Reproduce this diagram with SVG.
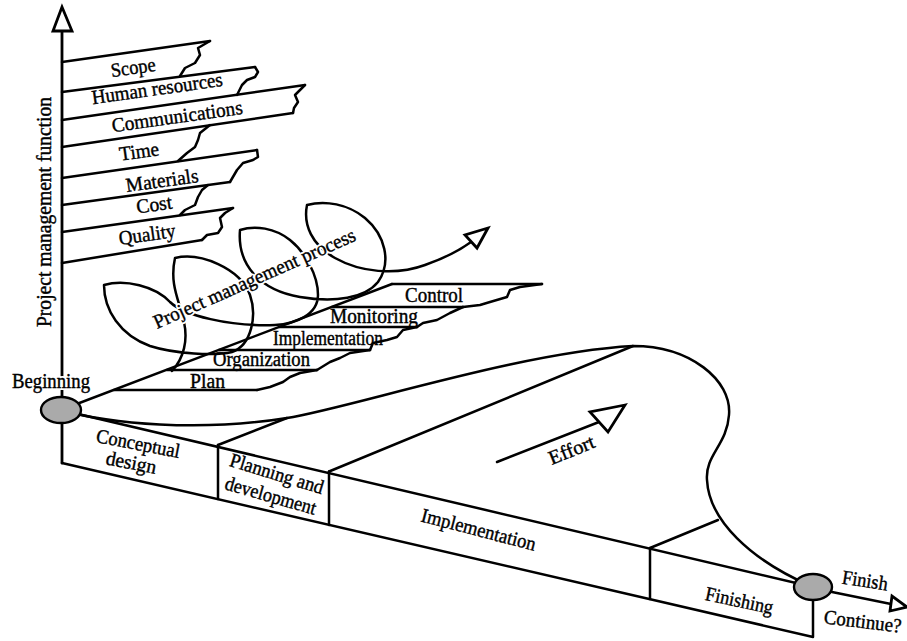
<svg xmlns="http://www.w3.org/2000/svg" width="907" height="641" viewBox="0 0 907 641">
<style>
.ln{fill:none;stroke:#000;stroke-width:2.5;stroke-linejoin:round;stroke-linecap:round}
.t{font-family:"Liberation Serif","Times New Roman",serif;font-size:20px;fill:#000;stroke:#000;stroke-width:0.4}
.halo{fill:#fff;stroke:#fff;stroke-width:4;stroke-linejoin:round}
.node{fill:#aaaaaa;stroke:#000;stroke-width:2.4}
.head{fill:#fff;stroke:#000;stroke-width:2.8;stroke-linejoin:miter}
</style>
<rect width="907" height="641" fill="#fff"/>

<g id="axis">
<path class="ln" d="M62,30 L62,463" style="stroke-width:2.8"/>
<text class="t" transform="translate(51,212) rotate(-90)" text-anchor="middle" textLength="230" lengthAdjust="spacingAndGlyphs">Project management function</text>
</g>

<g id="fn-scope">
<path class="ln" d="M62,62 L210,41"/>
<path class="ln" d="M210,41 L198,48 L200,55 L195,63 L185,68 L180,76"/>
<text class="t" x="134" y="74" text-anchor="middle" transform="rotate(-8 134 74)" textLength="45" lengthAdjust="spacingAndGlyphs">Scope</text>
</g>
<g id="fn-human">
<path class="ln" d="M62,92 L255,67"/>
<path class="ln" d="M255,67 L258,72 L255,77 L247,80 L242,85 L237,95"/>
<text class="t" x="158" y="95" text-anchor="middle" transform="rotate(-8 158 95)" textLength="132" lengthAdjust="spacingAndGlyphs">Human resources</text>
</g>
<g id="fn-comm">
<path class="ln" d="M62,120 L305,85"/>
<path class="ln" d="M305,85 L300,90 L295,95 L298,102 L294,108 L293,113"/>
<text class="t" x="178" y="123" text-anchor="middle" transform="rotate(-8 178 123)" textLength="132" lengthAdjust="spacingAndGlyphs">Communications</text>
</g>
<g id="fn-time">
<path class="ln" d="M62,147 L293,113"/>
<path class="ln" d="M210,125 L200,133 L198,140 L195,147 L187,153 L178,161"/>
<text class="t" x="140" y="158" text-anchor="middle" transform="rotate(-8 140 158)" textLength="40" lengthAdjust="spacingAndGlyphs">Time</text>
</g>
<g id="fn-materials">
<path class="ln" d="M62,178 L257,150"/>
<path class="ln" d="M257,150 L258,157 L253,160 L243,163 L237,170 L230,182"/>
<text class="t" x="163" y="187" text-anchor="middle" transform="rotate(-8 163 187)" textLength="73" lengthAdjust="spacingAndGlyphs">Materials</text>
</g>
<g id="fn-cost">
<path class="ln" d="M62,205 L230,182"/>
<path class="ln" d="M208,185 L202,190 L198,197 L195,205 L185,210 L180,215"/>
<text class="t" x="155" y="211" text-anchor="middle" transform="rotate(-8 155 211)" textLength="36" lengthAdjust="spacingAndGlyphs">Cost</text>
</g>
<g id="fn-quality">
<path class="ln" d="M62,232 L233,208"/>
<path class="ln" d="M233,208 L225,213 L220,218 L222,227 L218,233 L207,235 L202,240"/>
<path class="ln" d="M62,263 L202,240"/>
<text class="t" x="148" y="241" text-anchor="middle" transform="rotate(-8 148 241)" textLength="57" lengthAdjust="spacingAndGlyphs">Quality</text>
</g>

<g id="proc-control">
<path class="ln" d="M392,284 L542,284"/>
<path class="ln" d="M542,284 L520,287 L510,290 L507,297 L490,302 L480,305 L463,307"/>
<text class="t" x="405" y="302" textLength="58" lengthAdjust="spacingAndGlyphs">Control</text>
</g>
<g id="proc-monitoring">
<path class="ln" d="M332,307 L463,307"/>
<path class="ln" d="M463,307 L450,313 L437,320 L423,323 L417,327"/>
<text class="t" x="330" y="323" textLength="88" lengthAdjust="spacingAndGlyphs">Monitoring</text>
</g>
<g id="proc-implementation">
<path class="ln" d="M279,327 L417,327"/>
<path class="ln" d="M417,327 L403,330 L397,337 L387,340 L373,343 L370,350"/>
<text class="t" x="273" y="345" textLength="110" lengthAdjust="spacingAndGlyphs">Implementation</text>
</g>
<g id="proc-organization">
<path class="ln" d="M219,350 L370,350"/>
<path class="ln" d="M370,350 L350,353 L340,358 L330,362 L317,370"/>
<text class="t" x="213" y="366" textLength="97" lengthAdjust="spacingAndGlyphs">Organization</text>
</g>
<g id="proc-plan">
<path class="ln" d="M167,370 L317,370"/>
<path class="ln" d="M317,370 L300,373 L290,377 L283,382 L270,387 L257,390"/>
<path class="ln" d="M114,390 L257,390"/>
<text class="t" x="190" y="388" textLength="35" lengthAdjust="spacingAndGlyphs">Plan</text>
</g>

<g id="phase-conceptual">
<text class="t" x="137" y="450" text-anchor="middle" transform="rotate(11 137 450)" textLength="85" lengthAdjust="spacingAndGlyphs">Conceptual</text>
<text class="t" x="130" y="469" text-anchor="middle" transform="rotate(11 130 469)" textLength="51" lengthAdjust="spacingAndGlyphs">design</text>
</g>
<g id="phase-planning">
<path class="ln" d="M218,445 L218,499"/>
<path class="ln" d="M218,445 L287,418"/>
<text class="t" x="275" y="480" text-anchor="middle" transform="rotate(17 275 480)" textLength="97" lengthAdjust="spacingAndGlyphs">Planning and</text>
<text class="t" x="269" y="502" text-anchor="middle" transform="rotate(16 269 502)" textLength="94" lengthAdjust="spacingAndGlyphs">development</text>
</g>
<g id="phase-implementation">
<path class="ln" d="M329,471.5 L329,525"/>
<path class="ln" d="M329,471.5 L633,346"/>
<text class="t" x="477" y="536" text-anchor="middle" transform="rotate(14.5 477 536)" textLength="118" lengthAdjust="spacingAndGlyphs">Implementation</text>
</g>
<g id="phase-finishing">
<path class="ln" d="M650,548 L650,599"/>
<path class="ln" d="M650,548 L718,520"/>
<text class="t" x="738" y="607" text-anchor="middle" transform="rotate(12 738 607)" textLength="69" lengthAdjust="spacingAndGlyphs">Finishing</text>
</g>

<g id="connectors">
<path class="ln" d="M61,410 L813,587"/>
<path class="ln" d="M62,463 L813,637 L813,587"/>
<path class="ln" d="M61,410 L392,284"/>
<path class="ln" d="M61,410 C110,424 200,432 287,418 C350,408 520,352 633,346 C690,346 732,380 729,415 C727,445 705,455 707,480 C709,520 750,560 813,587"/>
<path class="ln" d="M172,371 C184,358 188,340 184,322 C180,302 169,285 175,258 C200,252 240,268 250,295 C257,315 252,345 232,352 C215,356 175,354 150,346 C120,335 104,310 104,285 C125,279 155,286 170,302 C183,315 230,327 275,325 C295,324 318,315 318,295 C318,275 305,252 290,240 C275,228 255,225 240,230 C237,265 260,290 300,297 C335,303 365,298 378,282 C392,262 385,235 365,218 C348,204 325,200 307,205 C303,225 312,245 335,258 C360,272 395,276 425,265 C445,258 460,250 471,242"/>
<polygon class="head" points="488,228 465,235 477,248"/>
<polygon class="head" points="62,7 53,31 72,31"/>
<path class="ln" d="M497,462 L599,422"/>
<polygon class="head" points="625,405 590,412 608,432"/>
<path class="ln" d="M832,592 L891,604"/>
<polygon class="head" points="907,607 892,596 890,611"/>
</g>

<g id="label-process">
<text class="t halo" x="157" y="329" transform="rotate(-24 157 329)" textLength="219" lengthAdjust="spacingAndGlyphs">Project management process</text>
<text class="t" x="157" y="329" transform="rotate(-24 157 329)" textLength="219" lengthAdjust="spacingAndGlyphs">Project management process</text>
</g>
<g id="label-effort">
<text class="t" x="574" y="456" text-anchor="middle" transform="rotate(-22 574 456)" textLength="48" lengthAdjust="spacingAndGlyphs">Effort</text>
</g>

<g id="node-beginning">
<ellipse class="node" cx="61" cy="410" rx="20" ry="13"/>
<text class="t halo" x="12" y="388" textLength="78" lengthAdjust="spacingAndGlyphs">Beginning</text>
<text class="t" x="12" y="388" textLength="78" lengthAdjust="spacingAndGlyphs">Beginning</text>
</g>
<g id="node-finish">
<ellipse class="node" cx="813" cy="587" rx="19" ry="13"/>
<text class="t" x="864" y="587" text-anchor="middle" transform="rotate(9 864 587)" textLength="46" lengthAdjust="spacingAndGlyphs">Finish</text>
<text class="t" x="862" y="628" text-anchor="middle" transform="rotate(7 862 628)" textLength="78" lengthAdjust="spacingAndGlyphs">Continue?</text>
</g>
</svg>
